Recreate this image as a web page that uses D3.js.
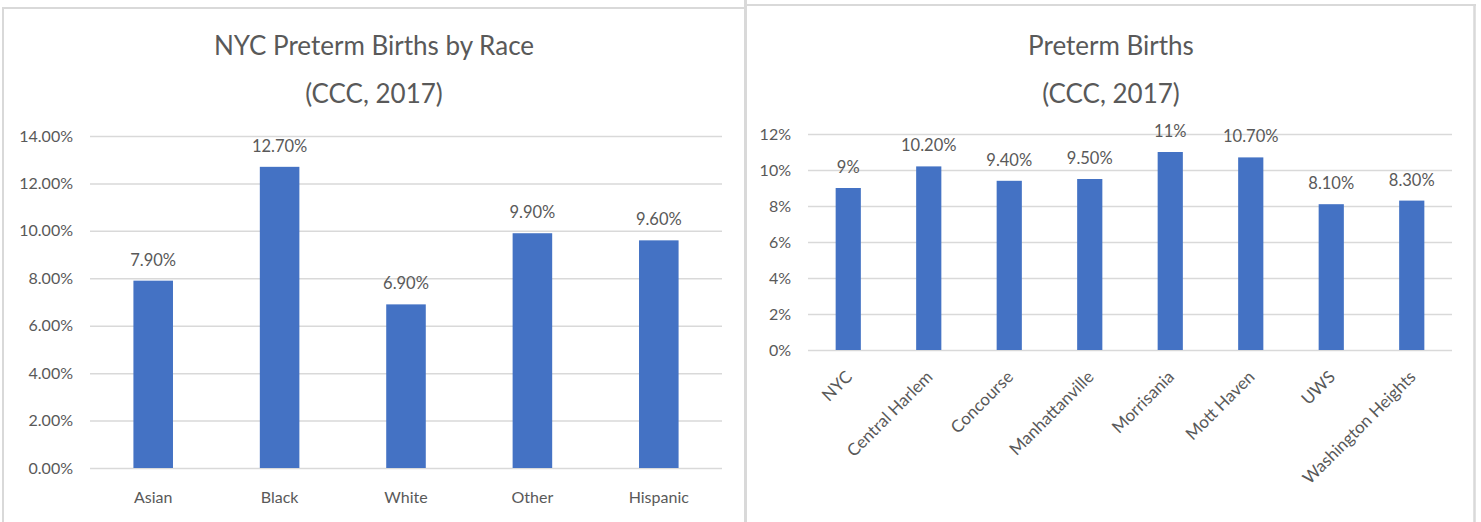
<!DOCTYPE html>
<html>
<head>
<meta charset="utf-8">
<script src="https://cdn.jsdelivr.net/npm/d3@7"></script>
<style>
  html, body { margin: 0; padding: 0; background: #fff; }
  svg { display: block; font-family: Lato, "Open Sans", sans-serif; }
</style>
</head>
<body>
<svg id="chart" width="1481" height="522"></svg>
<script>
// ---- Data ----
const raceCategories = ["Asian", "Black", "White", "Other", "Hispanic"];
const raceValues = [0.079, 0.127, 0.069, 0.099, 0.096];
const raceLabels = ["7.90%", "12.70%", "6.90%", "9.90%", "9.60%"];
const raceTicks = [0, 0.02, 0.04, 0.06, 0.08, 0.10, 0.12, 0.14];
const raceTickLabels = ["0.00%", "2.00%", "4.00%", "6.00%", "8.00%", "10.00%", "12.00%", "14.00%"];
const raceTitle = ["NYC Preterm Births by Race", "(CCC, 2017)"];

const areaCategories = ["NYC", "Central Harlem", "Concourse", "Manhattanville", "Morrisania", "Mott Haven", "UWS", "Washington Heights"];
const areaValues = [0.09, 0.102, 0.094, 0.095, 0.11, 0.107, 0.081, 0.083];
const areaLabels = ["9%", "10.20%", "9.40%", "9.50%", "11%", "10.70%", "8.10%", "8.30%"];
const areaTicks = [0, 0.02, 0.04, 0.06, 0.08, 0.10, 0.12];
const areaTickLabels = ["0%", "2%", "4%", "6%", "8%", "10%", "12%"];
const areaTitle = ["Preterm Births", "(CCC, 2017)"];

// ---- Style ----
const BAR = "#4472C4", GRID = "#D9D9D9", TEXT = "#595959", BORDER = "#D9D9D9";
const svg = d3.select("#chart");

// panel borders
svg.append("line").attr("x1", 2).attr("x2", 745).attr("y1", 8).attr("y2", 8).attr("stroke", BORDER).attr("stroke-width", 2);
svg.append("line").attr("x1", 3).attr("x2", 3).attr("y1", 7).attr("y2", 522).attr("stroke", BORDER).attr("stroke-width", 2);
svg.append("line").attr("x1", 745).attr("x2", 1476).attr("y1", 5).attr("y2", 5).attr("stroke", BORDER).attr("stroke-width", 2);
svg.append("line").attr("x1", 745.5).attr("x2", 745.5).attr("y1", 0).attr("y2", 522).attr("stroke", BORDER).attr("stroke-width", 3);
svg.append("line").attr("x1", 1474.5).attr("x2", 1474.5).attr("y1", 4).attr("y2", 522).attr("stroke", BORDER).attr("stroke-width", 2.5);

function panel(opts) {
  const { cats, vals, labels, ticks, tickLabels, title, x0, x1, yTop, yBottom, yMax, titleX, rotate } = opts;
  const g = svg.append("g");
  const x = d3.scaleBand().domain(cats).range([x0, x1]).padding(0);
  const y = d3.scaleLinear().domain([0, yMax]).range([yBottom, yTop]);
  const barW = x.bandwidth() * 0.313;

  // title
  g.append("text").attr("x", titleX).attr("y", 55).attr("text-anchor", "middle")
    .attr("fill", TEXT).attr("font-size", 26).text(title[0]);
  g.append("text").attr("x", titleX).attr("y", 103).attr("text-anchor", "middle")
    .attr("fill", TEXT).attr("font-size", 26).text(title[1]);

  // gridlines
  const axisY = d3.axisLeft(y).tickValues(ticks).tickSize(-(x1 - x0)).tickPadding(17)
    .tickFormat((d, i) => tickLabels[i]);
  const ag = g.append("g").attr("transform", `translate(${x0},0)`).call(axisY);
  ag.select(".domain").remove();
  ag.selectAll(".tick line").attr("stroke", GRID).attr("stroke-width", 1.5);
  ag.selectAll(".tick text").attr("fill", TEXT).attr("font-size", 16).attr("font-family", "Lato");

  // bars
  g.selectAll("rect.bar").data(vals).enter().append("rect")
    .attr("x", (d, i) => x(cats[i]) + (x.bandwidth() - barW) / 2)
    .attr("y", d => y(d))
    .attr("width", barW)
    .attr("height", d => y(0) - y(d))
    .attr("fill", BAR);

  // data labels
  g.selectAll("text.dl").data(vals).enter().append("text")
    .attr("x", (d, i) => x(cats[i]) + x.bandwidth() / 2)
    .attr("y", d => y(d) - 15)
    .attr("text-anchor", "middle").attr("fill", TEXT).attr("font-size", 16.5)
    .text((d, i) => labels[i]);

  // x axis labels
  const xl = g.selectAll("text.xl").data(cats).enter().append("text")
    .attr("fill", TEXT).attr("font-size", rotate ? 17 : 16).text(d => d);
  if (rotate) {
    xl.attr("text-anchor", "end")
      .attr("transform", d => `translate(${x(d) + x.bandwidth() / 2 + 5},${yBottom + 28}) rotate(-45)`);
  } else {
    xl.attr("text-anchor", "middle").attr("x", d => x(d) + x.bandwidth() / 2).attr("y", 503);
  }
}

panel({ cats: raceCategories, vals: raceValues, labels: raceLabels, ticks: raceTicks, tickLabels: raceTickLabels,
  title: raceTitle, x0: 90, x1: 722, yTop: 136, yBottom: 468, yMax: 0.14, titleX: 374, rotate: false });
panel({ cats: areaCategories, vals: areaValues, labels: areaLabels, ticks: areaTicks, tickLabels: areaTickLabels,
  title: areaTitle, x0: 808, x1: 1452, yTop: 134, yBottom: 350, yMax: 0.12, titleX: 1111, rotate: true });
</script>
</body>
</html>
